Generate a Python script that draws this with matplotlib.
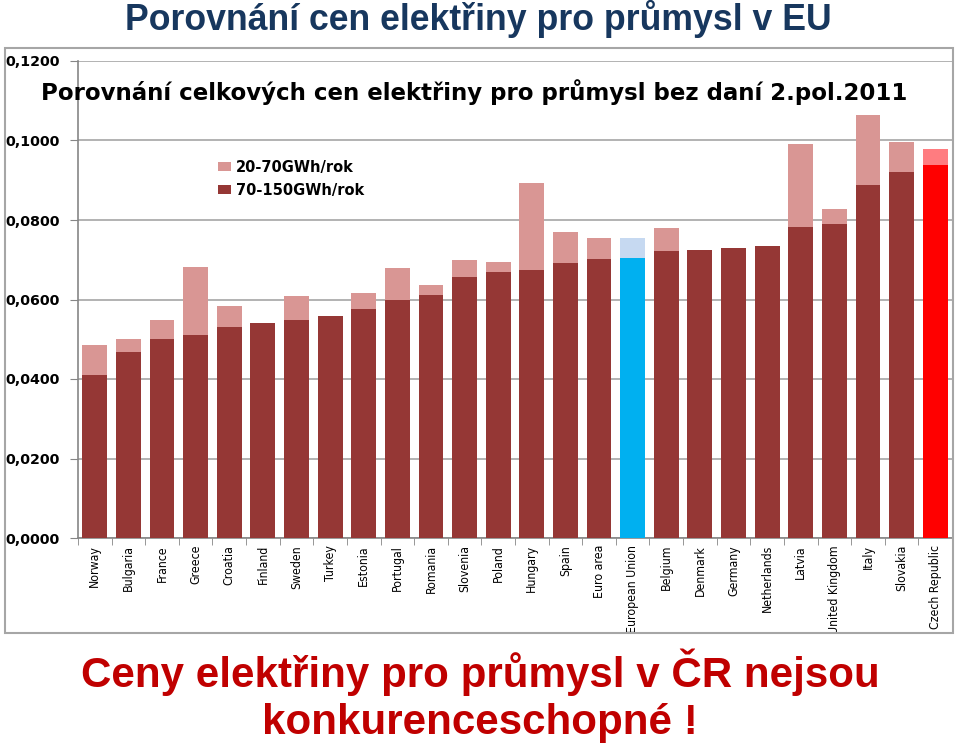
import matplotlib
matplotlib.use('Agg')
import matplotlib.pyplot as plt
import numpy as np
from matplotlib.patches import Rectangle
from matplotlib.ticker import FuncFormatter

# countries and prices (EUR/kWh)
countries = ['Norway', 'Bulgaria', 'France', 'Greece', 'Croatia', 'Finland',
             'Sweden', 'Turkey', 'Estonia', 'Portugal', 'Romania', 'Slovenia',
             'Poland', 'Hungary', 'Spain', 'Euro area', 'European Union',
             'Belgium', 'Denmark', 'Germany', 'Netherlands', 'Latvia',
             'United Kingdom', 'Italy', 'Slovakia', 'Czech Republic']
price_70_150 = [0.0410, 0.0468, 0.0501, 0.0511, 0.0531, 0.0541, 0.0548, 0.0559,
                0.0576, 0.0599, 0.0611, 0.0657, 0.0669, 0.0674, 0.0692, 0.0702,
                0.0704, 0.0722, 0.0725, 0.0730, 0.0735, 0.0782, 0.0790, 0.0888,
                0.0921, 0.0938]
price_20_70 = [0.0486, 0.0501, 0.0548, 0.0682, 0.0584, np.nan, 0.0609, np.nan,
               0.0616, 0.0679, 0.0637, 0.0699, 0.0694, 0.0893, 0.0770, 0.0755,
               0.0755, 0.0780, np.nan, np.nan, np.nan, 0.0991, 0.0828, 0.1064,
               0.0996, 0.0979]
yticks = [0.0, 0.02, 0.04, 0.06, 0.08, 0.10, 0.12]

# colours: normal bars, EU highlighted blue, Czech Republic red
dark = ['#953735'] * len(countries)
light = ['#D99694'] * len(countries)
dark[countries.index('European Union')] = '#00B0F0'
light[countries.index('European Union')] = '#C6D9F1'
dark[countries.index('Czech Republic')] = '#FF0000'
light[countries.index('Czech Republic')] = '#FF7C80'

W, H = 960, 750
fig = plt.figure(figsize=(W / 100, H / 100), dpi=100)

# slide title
fig.text(478 / W, 1 - 30 / H, 'Porovnání cen elektřiny pro průmysl v EU',
         ha='center', va='baseline', fontsize=25.7, fontweight='bold',
         color='#17375E', family='Liberation Sans')

# frame of the embedded chart
fig.patches.append(Rectangle((5 / W, 1 - 633 / H), 948 / W, 585 / H,
                             transform=fig.transFigure, fill=False,
                             edgecolor='#A6A6A6', lw=1.5))

ax = fig.add_axes([78 / W, 1 - 538 / H, 874 / W, 477 / H])
x = np.arange(len(countries))
ax.bar(x, price_20_70, width=0.74, color=light, zorder=2,
       label='20-70GWh/rok')
ax.bar(x, price_70_150, width=0.74, color=dark, zorder=3,
       label='70-150GWh/rok')

ax.set_xlim(-0.5, len(countries) - 0.5)
ax.set_ylim(0, 0.12)
ax.set_yticks(yticks)
ax.yaxis.set_major_formatter(FuncFormatter(lambda v, p: '{:.4f}'.format(v).replace('.', ',')))
ax.grid(axis='y', color='#A6A6A6', lw=1.2, zorder=0)
ax.set_axisbelow(True)
for s in ['top', 'right']:
    ax.spines[s].set_visible(False)
for s in ['left', 'bottom']:
    ax.spines[s].set_color('#868686')
    ax.spines[s].set_linewidth(1.2)
ax.tick_params(axis='y', length=6, color='#868686', pad=7, labelsize=10.3)
for lbl in ax.get_yticklabels():
    lbl.set_fontweight('bold')
    lbl.set_family('DejaVu Sans')

ax.set_xticks(x)
ax.set_xticklabels(countries, rotation=90, fontsize=8.8, family='DejaVu Sans',
                   fontstretch='condensed')
ax.set_xticks(np.arange(len(countries) + 1) - 0.5, minor=True)
ax.tick_params(axis='x', which='major', length=0, pad=5)
ax.tick_params(axis='x', which='minor', length=5, color='#868686')

ax.text(0.453, 0.935, 'Porovnání celkových cen elektřiny pro průmysl bez daní 2.pol.2011',
        transform=ax.transAxes, ha='center', va='center', fontsize=16.5,
        fontweight='bold', family='DejaVu Sans', zorder=5)

ax.legend(loc='upper left', bbox_to_anchor=(0.16, 0.793), frameon=False,
          prop={'family': 'DejaVu Sans', 'weight': 'bold', 'size': 10.5},
          handlelength=0.9, handleheight=0.6, handletextpad=0.35,
          labelspacing=0.55, borderpad=0, borderaxespad=0)

# bottom statement
fig.text(480 / W, 1 - 687 / H, 'Ceny elektřiny pro průmysl v ČR nejsou',
         ha='center', va='baseline', fontsize=30.3, fontweight='bold',
         color='#C00000', family='Liberation Sans')
fig.text(480 / W, 1 - 734 / H, 'konkurenceschopné !',
         ha='center', va='baseline', fontsize=30.3, fontweight='bold',
         color='#C00000', family='Liberation Sans')

fig.savefig('out.png', dpi=100, facecolor='white')
